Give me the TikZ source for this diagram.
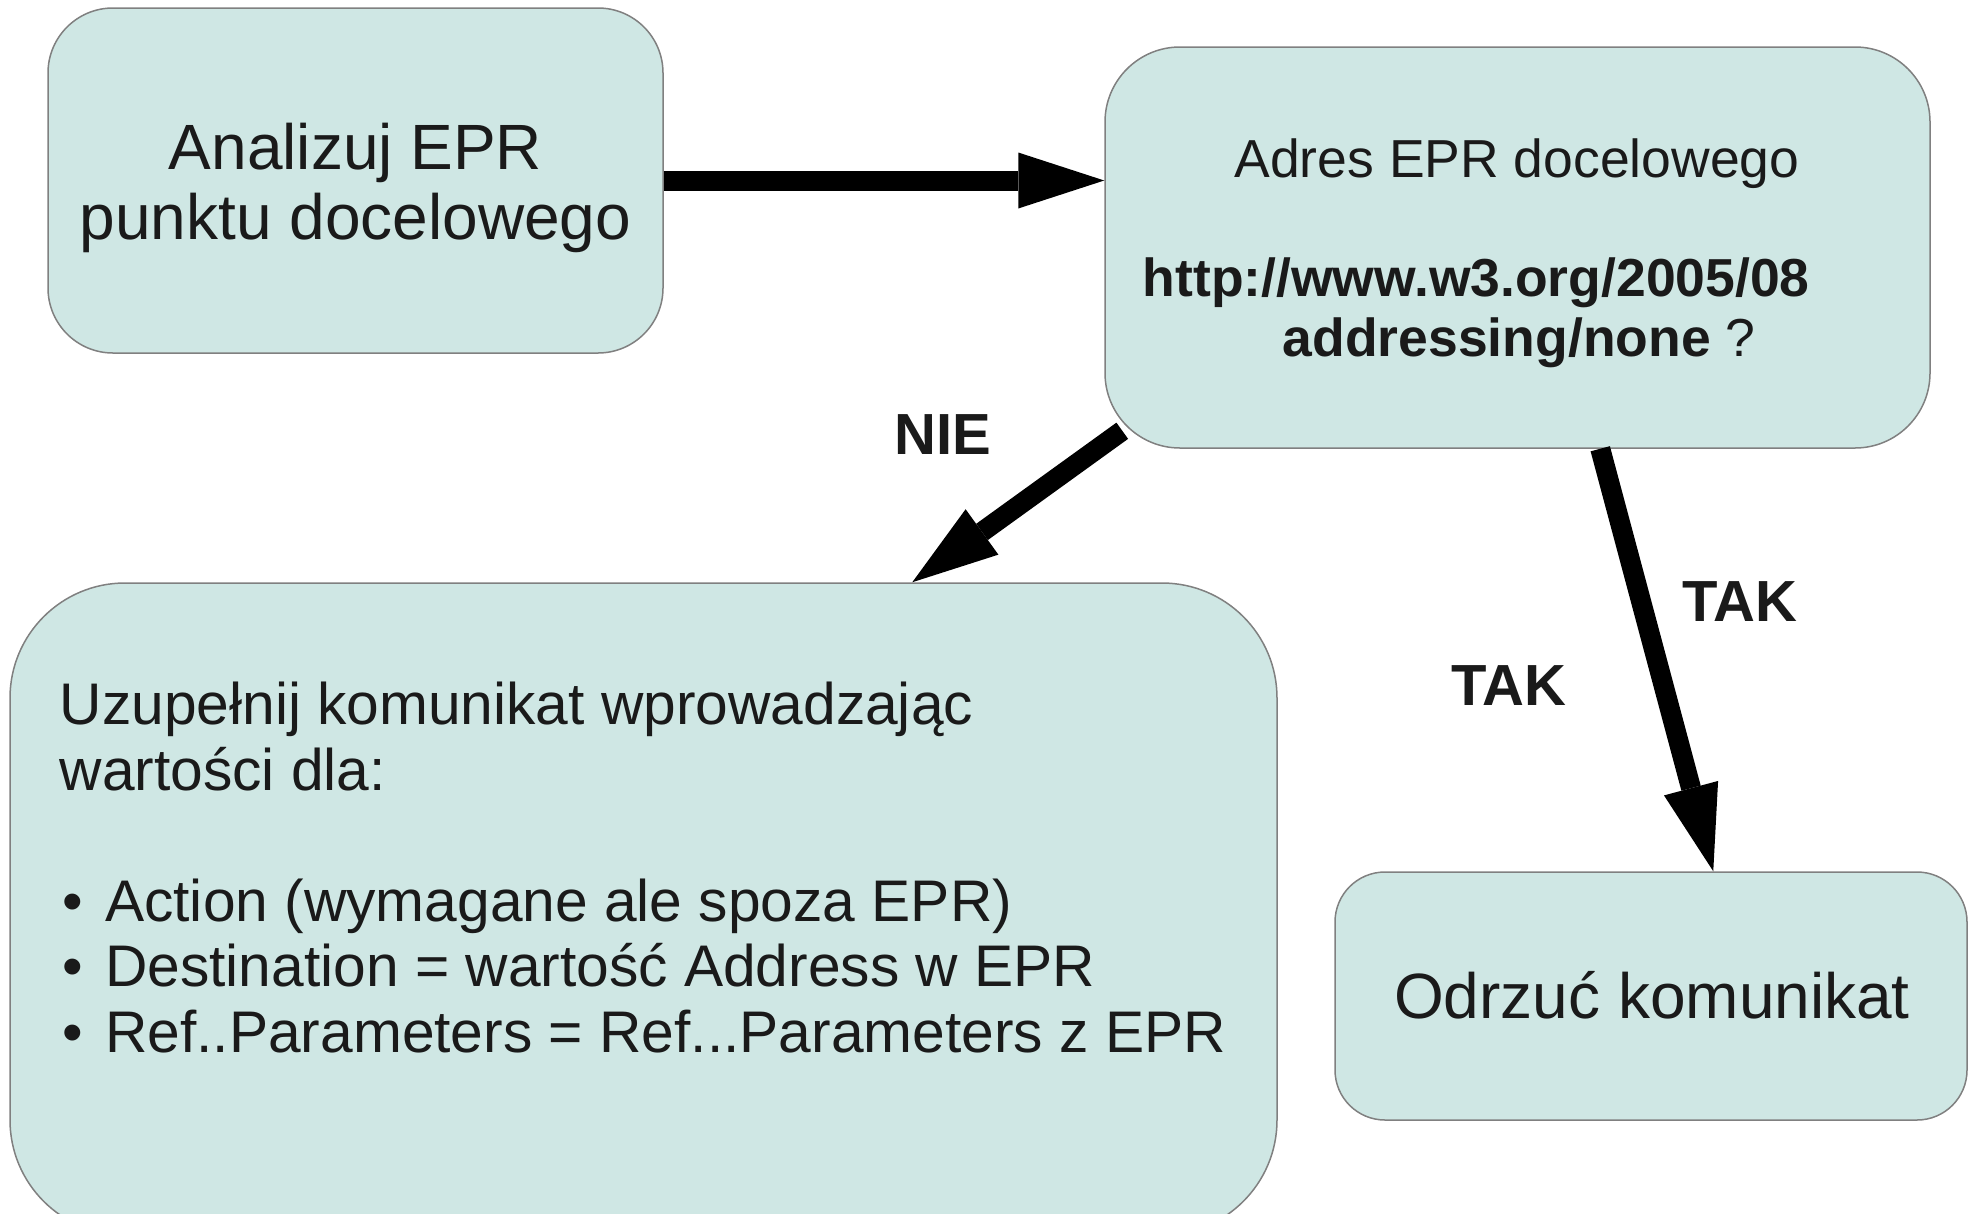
\documentclass[tikz,border=0pt]{standalone}
\usepackage{fontspec}
\setmainfont{Liberation Sans}
\usetikzlibrary{arrows.meta,calc}
\definecolor{boxfill}{RGB}{207,231,228}
\definecolor{boxline}{RGB}{128,128,128}
\definecolor{txt}{RGB}{26,26,26}
\begin{document}
\begin{tikzpicture}[x=1pt,y=-1pt,
  box/.style={draw=boxline,line width=1.5pt,fill=boxfill,rectangle,inner sep=0pt},
  arr/.style={line width=20pt,-{Triangle[length=86pt,width=56pt,line width=0pt]}},
  txtc/.style={inner sep=0pt,anchor=base,text=txt},
  txtl/.style={inner sep=0pt,anchor=base west,text=txt},
  bigfont/.style={font=\fontsize{64}{70}\selectfont},
  midfont/.style={font=\fontsize{53.5}{60}\selectfont},
  cfont/.style={font=\fontsize{58.7}{66}\selectfont},
  lblfont/.style={font=\fontsize{58}{66}\selectfont\bfseries}]
\useasboundingbox (0,0) rectangle (1975,1213);
% boxes
\node[box,rounded corners=65pt,minimum width=615pt,minimum height=345pt] (A) at (355.5,180.5) {};
\node[box,rounded corners=75pt,minimum width=825pt,minimum height=401pt] (B) at (1517.5,247.5) {};
\node[box,rounded corners=115pt,minimum width=1267pt,minimum height=652pt] (C) at (643.5,909) {};
\node[box,rounded corners=50pt,minimum width=632pt,minimum height=248pt] (D) at (1651,996) {};
% texts box A
\node[txtc,bigfont] (a1) at (355.5,169) {Analizuj EPR};
\node[txtc,bigfont] (a2) at (355.5,239) {punktu docelowego};
% texts box B
\node[txtc,midfont] (b1) at (1517,177) {Adres EPR docelowego};
\node[txtl,midfont] (b2) at (1142.5,296) {\bfseries http://www.w3.org/2005/08};
\node[txtl,midfont] (b3) at (1282.5,356) {\textbf{addressing/none} ?};
% texts box C
\node[txtl,cfont] (c1) at (59.5,724) {Uzupełnij komunikat wprowadzając};
\node[txtl,cfont] (c2) at (59.5,790) {wartości dla:};
\node[txtl,cfont] (c3) at (57,921) {\makebox[48pt][l]{\hspace{5pt}•}Action (wymagane ale spoza EPR)};
\node[txtl,cfont] (c4) at (57,986) {\makebox[48pt][l]{\hspace{5pt}•}Destination = wartość Address w EPR};
\node[txtl,cfont] (c5) at (57,1052) {\makebox[48pt][l]{\hspace{5pt}•}Ref..Parameters = Ref...Parameters z EPR};
% text box D
\node[txtc,bigfont] (d1) at (1652,1018) {Odrzuć komunikat};
% labels
\node[txtl,lblfont] (nie) at (894,454) {NIE};
\node[txtl,lblfont] (tak1) at (1682,621) {TAK};
\node[txtl,lblfont] (tak2) at (1451,705) {TAK};
% arrows
\draw[arr] (A.east) -- (A.east -| B.west);
\draw[arr] ($(B.south west)+(18,-18)$) -- ($(C.north west)+(903,0)$);
\draw[arr] ($(B.south west)+(496,0)$) -- ($(D.north west)+(379,0)$);
\end{tikzpicture}
\end{document}
